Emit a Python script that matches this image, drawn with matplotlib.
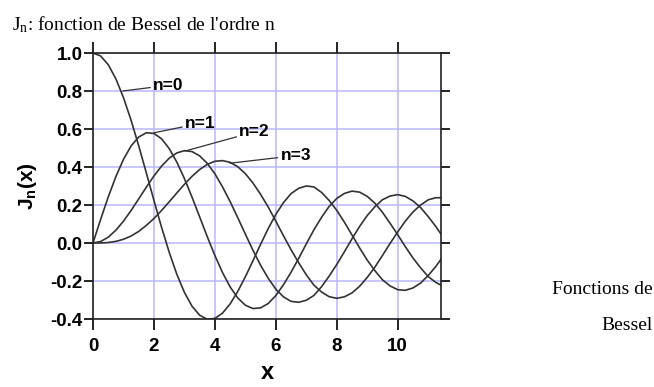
import numpy as np
import matplotlib
matplotlib.use("Agg")
import matplotlib.pyplot as plt

# Bessel values J0..J3, sampled every 0.25 from x = 0 to 11.5
x = np.arange(0, 11.51, 0.25)
j0 = [1.0, 0.9844, 0.9385, 0.8642, 0.7652, 0.6459, 0.5118, 0.3690, 0.2239, 0.0827,
      -0.0484, -0.1641, -0.2601, -0.3328, -0.3801, -0.4014, -0.3971, -0.3692, -0.3205, -0.2551,
      -0.1776, -0.0931, -0.0068, 0.0760, 0.1506, 0.2125, 0.2601, 0.2879, 0.3001, 0.2951,
      0.2663, 0.2238, 0.1717, 0.1094, 0.0419, -0.0262, -0.0903, -0.1455, -0.1939, -0.2260,
      -0.2459, -0.2490, -0.2366, -0.2109, -0.1712, -0.1236, -0.0677]
j1 = [0.0, 0.1240, 0.2423, 0.3492, 0.4401, 0.5106, 0.5579, 0.5802, 0.5767, 0.5484,
      0.4971, 0.4260, 0.3391, 0.2411, 0.1374, 0.0332, -0.0660, -0.1555, -0.2311, -0.2892,
      -0.3276, -0.3449, -0.3414, -0.3185, -0.2767, -0.2196, -0.1538, -0.0806, -0.0047, 0.0697,
      0.1352, 0.1927, 0.2346, 0.2608, 0.2731, 0.2676, 0.2453, 0.2096, 0.1613, 0.1034,
      0.0435, -0.0195, -0.0789, -0.1306, -0.1768, -0.2075, -0.2284]
j2 = [0.0, 0.0078, 0.0306, 0.0671, 0.1149, 0.1711, 0.2321, 0.2940, 0.3528, 0.4047,
      0.4461, 0.4739, 0.4861, 0.4811, 0.4586, 0.4192, 0.3641, 0.2955, 0.2178, 0.1334,
      0.0466, -0.0385, -0.1173, -0.1857, -0.2429, -0.2834, -0.3074, -0.3118, -0.3014, -0.2759,
      -0.2302, -0.1741, -0.1130, -0.0462, 0.0224, 0.0874, 0.1448, 0.1908, 0.2279, 0.2472,
      0.2546, 0.2452, 0.2216, 0.1866, 0.1390, 0.0867, 0.0280]
j3 = [0.0, 0.0003, 0.0026, 0.0085, 0.0196, 0.0368, 0.0610, 0.0927, 0.1289, 0.1711,
      0.2167, 0.2633, 0.3091, 0.3510, 0.3868, 0.4139, 0.4301, 0.4336, 0.4247, 0.4015,
      0.3649, 0.3156, 0.2561, 0.1893, 0.1148, 0.0382, -0.0354, -0.1042, -0.1675, -0.2219,
      -0.2580, -0.2826, -0.2911, -0.2832, -0.2626, -0.2276, -0.1809, -0.1271, -0.0653, -0.0020,
      0.0583, 0.1152, 0.1633, 0.2000, 0.2273, 0.2383, 0.2381]
curves = [j0, j1, j2, j3]

# label text, point on the curve, text anchor
labels = ["n=0", "n=1", "n=2", "n=3"]
label_from = [(0.98, 0.80), (2.0, 0.58), (3.02, 0.484), (4.49, 0.42)]
label_at = [(1.97, 0.83), (3.02, 0.63), (4.80, 0.585), (6.15, 0.46)]

xticks = [0, 2, 4, 6, 8, 10]
yticks = [-0.4, -0.2, 0.0, 0.2, 0.4, 0.6, 0.8, 1.0]

sans = ["Liberation Sans", "DejaVu Sans"]
plt.rcParams["mathtext.fontset"] = "custom"
plt.rcParams["mathtext.rm"] = "Liberation Serif"
plt.rcParams["mathtext.bf"] = "Liberation Sans:bold"

fig = plt.figure(figsize=(6.54, 3.87), dpi=100)
ax = fig.add_axes([93 / 654, 1 - 319 / 387, (441 - 93) / 654, (319 - 53) / 387])

for y in curves:
    ax.plot(x, y, color="#333333", lw=1.2)

for txt, p0, p1 in zip(labels, label_from, label_at):
    ax.annotate(txt, xy=p0, xytext=p1, fontsize=12.5, fontweight="bold",
                family=sans, va="center", ha="left",
                arrowprops=dict(arrowstyle="-", color="#333333", lw=0.9,
                                shrinkA=0, shrinkB=0))

ax.set_xlim(0, 11.42)
ax.set_ylim(-0.4, 1.0)
ax.set_xticks(xticks)
ax.set_yticks(yticks)
ax.set_xticklabels([str(t) for t in xticks], family=sans, fontweight="bold", fontsize=13.5)
ax.set_yticklabels([f"{t:.1f}" for t in yticks], family=sans, fontweight="bold", fontsize=13.5)
ax.tick_params(axis="x", direction="out", length=8, width=1.2, top=True, pad=6)
ax.tick_params(axis="y", direction="out", length=6.5, width=1.2, right=True, pad=1)
ax.grid(True, color="#b8b8ff", lw=1.1)
ax.set_axisbelow(True)
for s in ax.spines.values():
    s.set_linewidth(1.2)
    s.set_color("#222222")

ax.set_xlabel("x", family=sans, fontweight="bold", fontsize=17, labelpad=4)
ax.set_ylabel(r"$\mathbf{J_n(x)}$", fontsize=15, labelpad=8)

fig.text(12 / 654, 1 - 25 / 387, r"$\mathrm{J_n}$: fonction de Bessel de l'ordre n",
         family="Liberation Serif", fontsize=14, va="center", ha="left")
fig.text(653 / 654, 1 - 290 / 387, "Fonctions de", family="Liberation Serif",
         fontsize=14, va="center", ha="right")
fig.text(653 / 654, 1 - 325 / 387, "Bessel", family="Liberation Serif",
         fontsize=14, va="center", ha="right")

fig.savefig("out.png", dpi=100)
